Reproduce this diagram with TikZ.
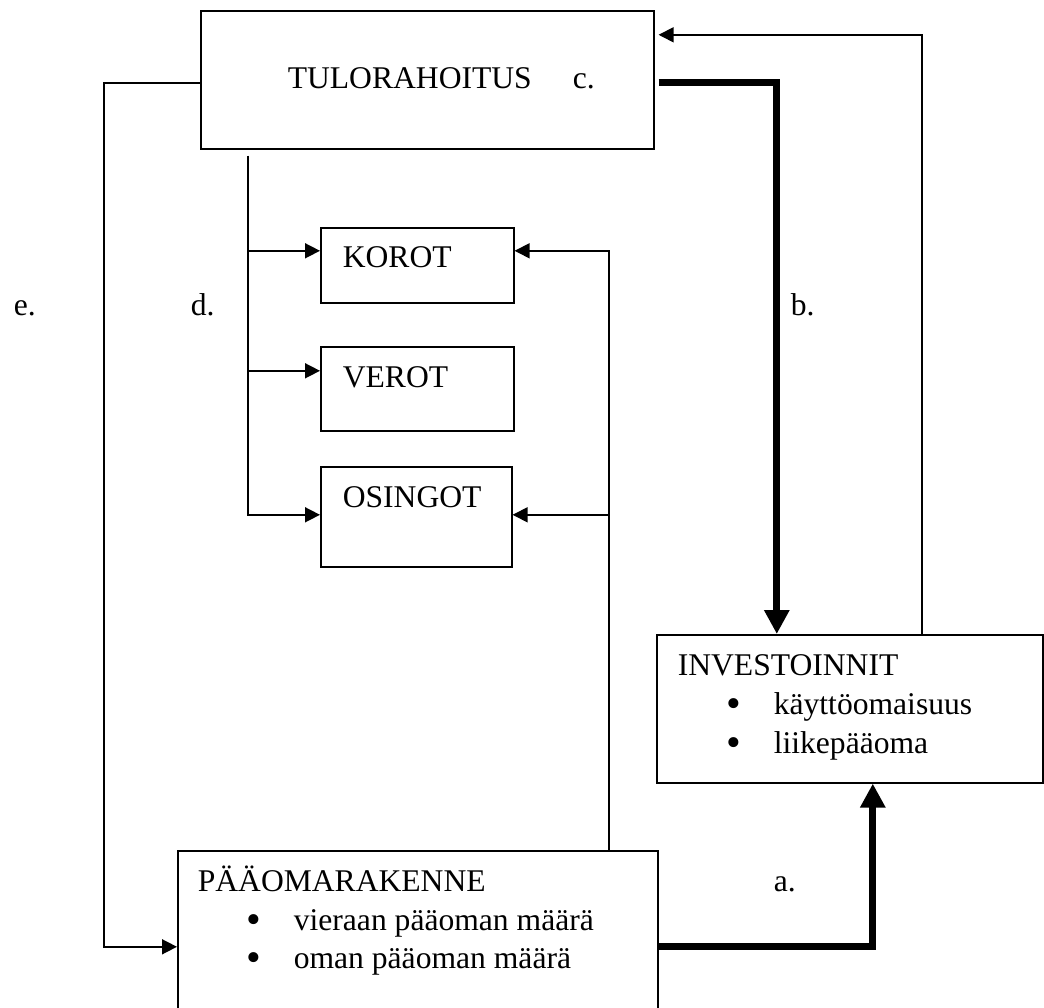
\documentclass[tikz,border=0pt]{standalone}
\usepackage{fontspec}
\setmainfont{Liberation Serif}
\usetikzlibrary{arrows.meta}
\newcommand{\bitem}[1]{\makebox[23.5pt][l]{\raisebox{-1.6pt}{\fontsize{21}{21}\selectfont\textbullet}}#1}

\begin{document}
\begin{tikzpicture}[x=0.5pt,y=-0.5pt,line width=0.8pt,font=\fontsize{15.8}{18}\selectfont,
    box/.style={draw,anchor=north west,inner sep=0pt},
    txt/.style={anchor=base west,inner sep=0pt},
    flow/.style={-{Triangle[length=7.5pt,width=7.5pt]}},
    heavy/.style={line width=3.5pt,-{Triangle[length=12pt,width=12pt]}}]
  \clip (0,0) rectangle (1044,1007);
  \node[box,minimum width=226.5pt,minimum height=69pt] (tulo)    at (200,10)  {};
  \node[box,minimum width=96.5pt,minimum height=37.5pt] (korot)  at (320,227) {};
  \node[box,minimum width=96.5pt,minimum height=42pt]   (verot)  at (320,346) {};
  \node[box,minimum width=95.5pt,minimum height=50pt]   (osingot) at (320,466) {};
  \node[box,minimum width=193pt,minimum height=74pt]    (invest) at (656,634) {};
  \node[box,minimum width=240pt,minimum height=96pt]    (paaoma) at (177,850) {};
  %
  \node[txt] (tulotxt)    at ([shift={(87,78)}]tulo.north west)    {TULORAHOITUS};
  \node[txt] (ctxt)       at ([shift={(372,78)}]tulo.north west)   {c.};
  \node[txt] (korottxt)   at ([shift={(22,40)}]korot.north west)   {KOROT};
  \node[txt] (verottxt)   at ([shift={(22,41)}]verot.north west)   {VEROT};
  \node[txt] (osingottxt) at ([shift={(22,41)}]osingot.north west) {OSINGOT};
  \node[txt] (investtxt)  at ([shift={(21,41)}]invest.north west)  {INVESTOINNIT};
  \node[txt] (kaytto)     at ([shift={(49,39)}]investtxt.base west) {\bitem{käyttöomaisuus}};
  \node[txt] (liike)      at ([shift={(0,39)}]kaytto.base west)     {\bitem{liikepääoma}};
  \node[txt] (paaomatxt)  at ([shift={(20,41)}]paaoma.north west)  {PÄÄOMARAKENNE};
  \node[txt] (vieras)     at ([shift={(49,39)}]paaomatxt.base west) {\bitem{vieraan pääoman määrä}};
  \node[txt] (oma)        at ([shift={(0,38)}]vieras.base west)     {\bitem{oman pääoman määrä}};
  \node[txt] (etxt) at (13,315)  {e.};
  \node[txt] (dtxt) at (190,315) {d.};
  \node[txt] (btxt) at (790,315) {b.};
  \node[txt] (atxt) at (773,891) {a.};
  %
  \coordinate (dtop)   at ([shift={(48,6)}]tulo.south west);
  \coordinate (korin)  at ([shift={(0,-14.5)}]korot.west);
  \coordinate (verin)  at ([shift={(0,-18)}]verot.west);
  \coordinate (osin)   at ([shift={(0,-2)}]osingot.west);
  \coordinate (korout) at ([shift={(0,-14.5)}]korot.east);
  \coordinate (osout)  at ([shift={(0,-2)}]osingot.east);
  \coordinate (rjoin)  at ([shift={(191,0)}]paaoma.north);
  %
  \draw[flow] (dtop) |- (osin);
  \draw[flow] (dtop |- korin) -- (korin);
  \draw[flow] (dtop |- verin) -- (verin);
  \draw[flow] (rjoin) |- (korout);
  \draw[flow] (rjoin |- osout) -- (osout);
  \draw[flow] ([shift={(0,3)}]tulo.west) -- ++(-96,0) |- (paaoma.west);
  \draw[flow] ([shift={(72,0)}]invest.north) |- ([shift={(4,-45)}]tulo.east);
  \draw[heavy] ([shift={(4,3)}]tulo.east) -| ([shift={(-73,0)}]invest.north);
  \draw[heavy] (paaoma.east) -| ([shift={(23,0)}]invest.south);
\end{tikzpicture}
\end{document}
